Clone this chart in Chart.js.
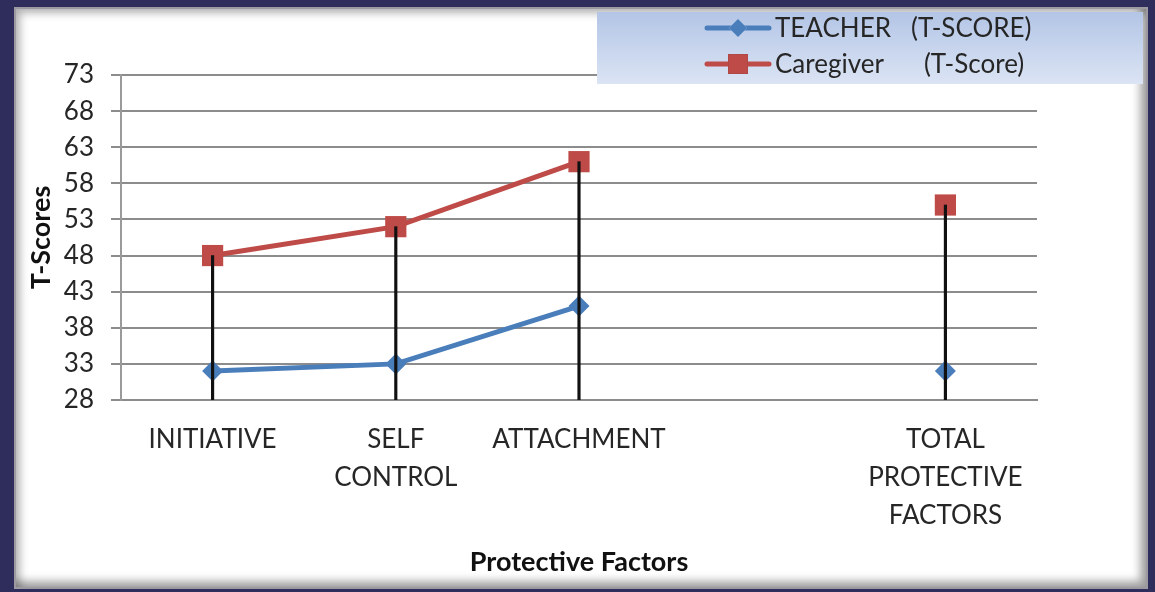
<!DOCTYPE html>
<html>
<head>
<meta charset="utf-8">
<script src="https://cdn.jsdelivr.net/npm/chart.js@4.4.1/dist/chart.umd.min.js"></script>
<style>
  html, body { margin: 0; padding: 0; }
  body { width: 1155px; height: 592px; background: #2e2d5c; position: relative; overflow: hidden; }
  #panel {
    position: absolute; left: 14px; top: 7px; width: 1130px; height: 578px;
    background: #ffffff;
    border: 2px solid #9c9aa0;
    box-shadow: inset 4px 4px 8px rgba(0,0,0,0.30), inset -6px -6px 9px rgba(0,0,0,0.35);
  }
  #c { position: absolute; left: 0; top: 0; }
</style>
</head>
<body>
<div id="panel"></div>
<canvas id="c" width="1155" height="592"></canvas>
<script>
// ---- data ----
const categories = ['INITIATIVE', ['SELF', 'CONTROL'], 'ATTACHMENT', '', ['TOTAL', 'PROTECTIVE', 'FACTORS']];
const teacherScores = [32, 33, 41, null, 32];
const caregiverScores = [48, 52, 61, null, 55];
const seriesLabels = ['TEACHER   (T-SCORE)', 'Caregiver      (T-Score)'];
const yAxisMin = 28;
const yAxisMax = 73;
const yAxisStep = 5;
const xAxisTitle = 'Protective Factors';
const yAxisTitle = 'T-Scores';

// drop lines: from the highest point of each category down to the axis
const dropLines = categories.map((_, i) => {
  const vals = [teacherScores[i], caregiverScores[i]].filter(v => v !== null);
  return vals.length ? [yAxisMin, Math.max(...vals)] : null;
});

const BLUE = '#4a7ebb';
const RED = '#be4b48';

Chart.defaults.font.family = 'Lato, "Open Sans", sans-serif';
Chart.defaults.color = '#262626';

const legendPlugin = {
  id: 'boxLegend',
  afterDraw(chart) {
    const ctx = chart.ctx;
    const x0 = 597, y0 = 12, x1 = 1143, y1 = 84;
    ctx.save();
    const g = ctx.createLinearGradient(0, y0, 0, y1);
    g.addColorStop(0, '#b3c5e6');
    g.addColorStop(1, '#dbe4f4');
    ctx.fillStyle = g;
    ctx.fillRect(x0, y0, x1 - x0, y1 - y0);
    const rows = [28, 64];
    let r = 0;
    chart.data.datasets.forEach((ds) => {
      if (ds.type !== 'line') return;
      const y = rows[r++];
      ctx.strokeStyle = ds.borderColor;
      ctx.lineWidth = 5;
      ctx.lineCap = 'round';
      ctx.beginPath();
      ctx.moveTo(707, y);
      ctx.lineTo(769, y);
      ctx.stroke();
      Chart.helpers.drawPoint(ctx, {
        pointStyle: ds.pointStyle, radius: ds.legendRadius, borderWidth: 0
      }, 738, y);
      ctx.fillStyle = ds.pointBackgroundColor;
      ctx.fill();
      ctx.fillStyle = '#262626';
      ctx.font = '26px Lato';
      ctx.textAlign = 'left';
      ctx.textBaseline = 'middle';
      ctx.fillText(ds.label, 775, y + 1);
    });
    ctx.restore();
  }
};

new Chart(document.getElementById('c'), {
  data: {
    labels: categories,
    datasets: [
      {
        type: 'bar',
        label: 'drop',
        data: dropLines,
        backgroundColor: '#111111',
        barThickness: 2.5,
        order: 0
      },
      {
        type: 'line',
        label: seriesLabels[0],
        data: teacherScores,
        borderColor: BLUE,
        backgroundColor: BLUE,
        pointBackgroundColor: BLUE,
        pointBorderColor: BLUE,
        borderWidth: 5,
        pointStyle: 'rectRot',
        pointRadius: 10.5,
        pointBorderWidth: 0,
        legendRadius: 9,
        tension: 0,
        order: 2
      },
      {
        type: 'line',
        label: seriesLabels[1],
        data: caregiverScores,
        borderColor: RED,
        backgroundColor: RED,
        pointBackgroundColor: RED,
        pointBorderColor: RED,
        borderWidth: 5,
        pointStyle: 'rect',
        pointRadius: 15,
        pointBorderWidth: 0,
        legendRadius: 14,
        tension: 0,
        order: 1
      }
    ]
  },
  options: {
    responsive: false,
    animation: false,
    devicePixelRatio: 1,
    layout: { padding: { left: 21, top: 75, right: 118, bottom: 10 } },
    plugins: {
      legend: { display: false },
      tooltip: { enabled: false }
    },
    scales: {
      x: {
        type: 'category',
        offset: true,
        grid: { display: false, drawTicks: false },
        border: { display: true, color: '#8c8c8c', width: 2 },
        ticks: {
          font: { size: 26, lineHeight: 1.45 },
          color: '#262626',
          maxRotation: 0,
          autoSkip: false,
          padding: 21
        },
        title: {
          display: true,
          text: xAxisTitle,
          font: { size: 27, weight: 'bold', lineHeight: 1.2 },
          color: '#111111',
          padding: { top: 4, bottom: 4 }
        },
        afterFit(scale) { scale.height = 182; }
      },
      y: {
        type: 'linear',
        min: yAxisMin,
        max: yAxisMax,
        ticks: {
          stepSize: yAxisStep,
          font: { size: 26 },
          color: '#262626',
          padding: 17
        },
        grid: { color: '#8c8c8c', lineWidth: 2, tickLength: 10, drawTicks: true },
        border: { display: true, color: '#9a9a9a', width: 2 },
        title: {
          display: true,
          text: yAxisTitle,
          font: { size: 27, weight: 'bold', lineHeight: 1.2 },
          color: '#111111',
          padding: { top: 4, bottom: 4 }
        },
        afterFit(scale) { scale.width = 100; }
      }
    }
  },
  plugins: [legendPlugin]
});
</script>
</body>
</html>
